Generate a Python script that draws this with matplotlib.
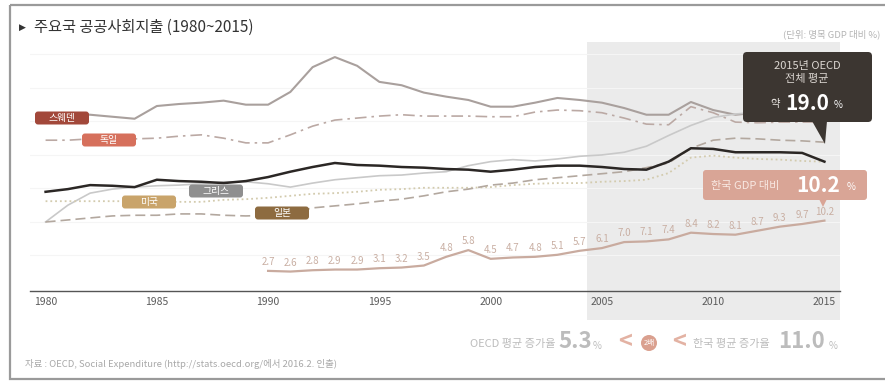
import matplotlib.pyplot as plt
from matplotlib.patches import FancyBboxPatch, Rectangle, Polygon, Circle

plt.rcParams['font.family'] = ['Noto Sans CJK KR', 'DejaVu Sans']

# 공공사회지출 (GDP 대비 %)
years = list(range(1980, 2016))
sweden = [26.0, 26.0, 26.0, 25.7, 25.4, 27.3, 27.6, 27.8, 28.1, 27.5, 27.5, 29.4,
          33.1, 34.6, 33.3, 30.9, 30.4, 29.3, 28.7, 28.2, 27.2, 27.2, 27.8, 28.5,
          28.2, 27.8, 27.0, 26.0, 26.0, 27.9, 26.7, 26.0, 26.3, 26.4, 26.1, 25.8]
germany = [22.2, 22.2, 22.4, 22.4, 22.4, 22.5, 22.8, 23.0, 22.5, 21.8, 21.8, 23.0,
           24.3, 25.2, 25.5, 25.8, 26.0, 25.8, 25.8, 25.8, 25.7, 25.7, 26.4, 26.7,
           26.6, 26.3, 25.5, 24.6, 24.5, 27.2, 26.3, 24.9, 24.8, 24.9, 24.9, 24.9]
greece = [10.0, 12.5, 14.3, 14.9, 15.2, 15.4, 15.5, 15.7, 16.0, 16.0, 15.7, 15.2,
          15.8, 16.3, 16.6, 16.9, 17.0, 17.3, 17.5, 18.4, 19.0, 19.3, 19.1, 19.4,
          19.8, 20.0, 20.4, 21.3, 22.9, 24.4, 25.6, 26.1, 26.4, 26.3, 26.1, 25.8]
oecd = [14.5, 14.9, 15.5, 15.4, 15.2, 16.3, 16.1, 16.0, 15.8, 16.1, 16.7, 17.5,
        18.2, 18.8, 18.5, 18.4, 18.2, 18.1, 17.9, 17.8, 17.5, 17.8, 18.2, 18.4,
        18.4, 18.2, 17.9, 17.8, 19.0, 21.0, 20.9, 20.4, 20.4, 20.4, 20.3, 19.0]
usa = [13.1, 13.1, 13.1, 13.1, 13.1, 13.0, 13.0, 13.0, 13.3, 13.4, 13.6, 13.9,
       14.2, 14.3, 14.5, 14.8, 14.9, 15.1, 15.1, 15.1, 15.2, 15.5, 15.7, 15.8,
       15.8, 16.0, 16.1, 16.3, 17.3, 19.6, 19.9, 19.6, 19.4, 19.3, 19.1, 19.0]
japan = [10.0, 10.3, 10.6, 10.9, 11.0, 11.0, 11.2, 11.2, 11.0, 10.9, 11.0, 11.3,
         12.1, 12.4, 12.7, 13.1, 13.4, 13.9, 14.5, 14.9, 15.5, 15.8, 16.3, 16.6,
         16.9, 17.2, 17.5, 18.1, 18.8, 21.0, 22.2, 22.5, 22.4, 22.2, 22.1, 21.9]
korea_years = list(range(1990, 2016))
korea = [2.7, 2.6, 2.8, 2.9, 2.9, 3.1, 3.2, 3.5, 4.8, 5.8, 4.5, 4.7, 4.8,
         5.1, 5.7, 6.1, 7.0, 7.1, 7.4, 8.4, 8.2, 8.1, 8.7, 9.3, 9.7, 10.2]

tick_years = [1980, 1985, 1990, 1995, 2000, 2005, 2010, 2015]
oecd_avg_growth = 5.3
korea_avg_growth = 11.0

fig = plt.figure(figsize=(8.85, 3.81), dpi=100)
ax = fig.add_axes([30 / 885, 90 / 381, 810 / 885, 250 / 381])
ax.set_xlim(1979.3, 2015.7)
ax.set_ylim(-0.3, 37)

# 2005~2015 구간 음영
ax.add_patch(Rectangle((2004.33, -4.6), 2015.7 - 2004.33, 41.5, fc='#ebebeb',
                       ec='none', clip_on=False, zorder=0))
for v in range(5, 40, 5):
    ax.axhline(v, color='#f5f5f5', lw=0.8, zorder=0.5)

ax.plot(years, sweden, color='#a9a09d', lw=1.5, zorder=2)
ax.plot(years, germany, color='#bba9a4', lw=1.2, ls=(0, (7, 3, 1.5, 3)), zorder=2)
ax.plot(years, greece, color='#c9c9c9', lw=1.2, zorder=2)
ax.plot(years, usa, color='#d3cbae', lw=1.3, ls=':', zorder=2)
ax.plot(years, japan, color='#b3a89f', lw=1.2, ls=(0, (6, 3)), zorder=2)
ax.plot(years, oecd, color='#2b2725', lw=1.8, zorder=3)
ax.plot(korea_years, korea, color='#c9ab9f', lw=1.6, zorder=3)

for yr, v in zip(korea_years, korea):
    ax.annotate(f'{v:.1f}', (yr, v), xytext=(0, 6.5), textcoords='offset points',
                ha='center', va='center', fontsize=7, color='#c9afa3')

for s in ['top', 'left', 'right']:
    ax.spines[s].set_visible(False)
ax.spines['bottom'].set_color('#555555')
ax.spines['bottom'].set_linewidth(1.0)
ax.spines['bottom'].set_zorder(4)
ax.set_yticks([])
ax.set_xticks(tick_years)
ax.set_xticklabels([str(y) for y in tick_years])
ax.tick_params(axis='x', length=0, pad=4, labelsize=7.5, labelcolor='#5a5a5a')

# 텍스트, 라벨, 말풍선 (픽셀 좌표)
ov = fig.add_axes([0, 0, 1, 1])
ov.set_xlim(0, 885)
ov.set_ylim(381, 0)
ov.axis('off')

ov.add_patch(Rectangle((10, 5), 890, 374, fill=False, ec='#9a9a9a', lw=1.6))

ov.text(19, 27, '▶', fontsize=6.5, color='#333333', va='center',
        family=['DejaVu Sans'])
ov.text(34, 27, '주요국 공공사회지출 (1980~2015)', fontsize=11, color='#333333',
        va='center')
ov.text(880, 34, '(단위: 명목 GDP 대비 %)', fontsize=6.8, color='#b4b4b4',
        va='center', ha='right')


def tag(cx, cy, text, color):
    ov.add_patch(FancyBboxPatch((cx - 27, cy - 6.5), 54, 13,
                                boxstyle='round,pad=0,rounding_size=3',
                                fc=color, ec='none'))
    ov.text(cx, cy, text, fontsize=7, color='white', ha='center', va='center')


tag(62, 118, '스웨덴', '#a2483a')
tag(109, 140, '독일', '#d6705c')
tag(216, 191, '그리스', '#8f8f8f')
tag(149, 202, '미국', '#c9a46b')
tag(282, 213, '일본', '#8d6b40')

# OECD 평균 말풍선
ov.add_patch(FancyBboxPatch((743, 52), 129, 70,
                            boxstyle='round,pad=0,rounding_size=4',
                            fc='#3c3631', ec='none'))
ov.add_patch(Polygon([(812, 121), (827, 121), (825, 144)], fc='#3c3631', ec='none'))
ov.text(807, 66, '2015년 OECD', fontsize=8, color='#dcd7d2', ha='center', va='center')
ov.text(807, 79, '전체 평균', fontsize=8, color='#dcd7d2', ha='center', va='center')
ov.text(775, 104, '약', fontsize=7.5, color='#e8e4e0', ha='center', va='center')
ov.text(785, 103, f'{oecd[-1]:.1f}', fontsize=15, fontweight='bold', color='white',
        ha='left', va='center')
ov.text(838, 105, '%', fontsize=7, color='white', ha='center', va='center')

# 한국 말풍선
ov.add_patch(FancyBboxPatch((703, 170), 164, 30,
                            boxstyle='round,pad=0,rounding_size=3',
                            fc='#d9a596', ec='none'))
ov.add_patch(Polygon([(819, 199), (827, 199), (823, 207)], fc='#d9a596', ec='none'))
ov.text(711, 186, '한국 GDP 대비', fontsize=8, color='#f8e8e2', ha='left', va='center')
ov.text(796, 185, f'{korea[-1]:.1f}', fontsize=15, fontweight='bold', color='white',
        ha='left', va='center')
ov.text(851, 187, '%', fontsize=7, color='white', ha='center', va='center')

# 평균 증가율 비교
grey = '#bcbcbc'
ov.text(556, 344, 'OECD 평균 증가율', fontsize=8, color=grey, ha='right', va='center')
ov.text(558, 342, f'{oecd_avg_growth:.1f}', fontsize=16, fontweight='bold', color=grey,
        ha='left', va='center')
ov.text(597, 346, '%', fontsize=7, color=grey, ha='center', va='center')
ov.text(625, 342, '<', fontsize=17, fontweight='bold', color='#e3b2a3',
        ha='center', va='center')
ov.add_patch(Circle((649, 343), 8, fc='#daa08f', ec='none'))
ov.text(649, 343, '2배', fontsize=5.5, color='white', ha='center', va='center')
ov.text(679, 342, '<', fontsize=17, fontweight='bold', color='#e3b2a3',
        ha='center', va='center')
ov.text(693, 344, '한국 평균 증가율', fontsize=8, color=grey, ha='left', va='center')
ov.text(778, 342, f'{korea_avg_growth:.1f}', fontsize=16, fontweight='bold', color=grey,
        ha='left', va='center')
ov.text(833, 346, '%', fontsize=7, color=grey, ha='center', va='center')

ov.text(25, 364, '자료 : OECD, Social Expenditure (http://stats.oecd.org/에서 2016.2. 인출)',
        fontsize=6.8, color='#a8a8a8', ha='left', va='center')

fig.savefig('out.png', dpi=100)
